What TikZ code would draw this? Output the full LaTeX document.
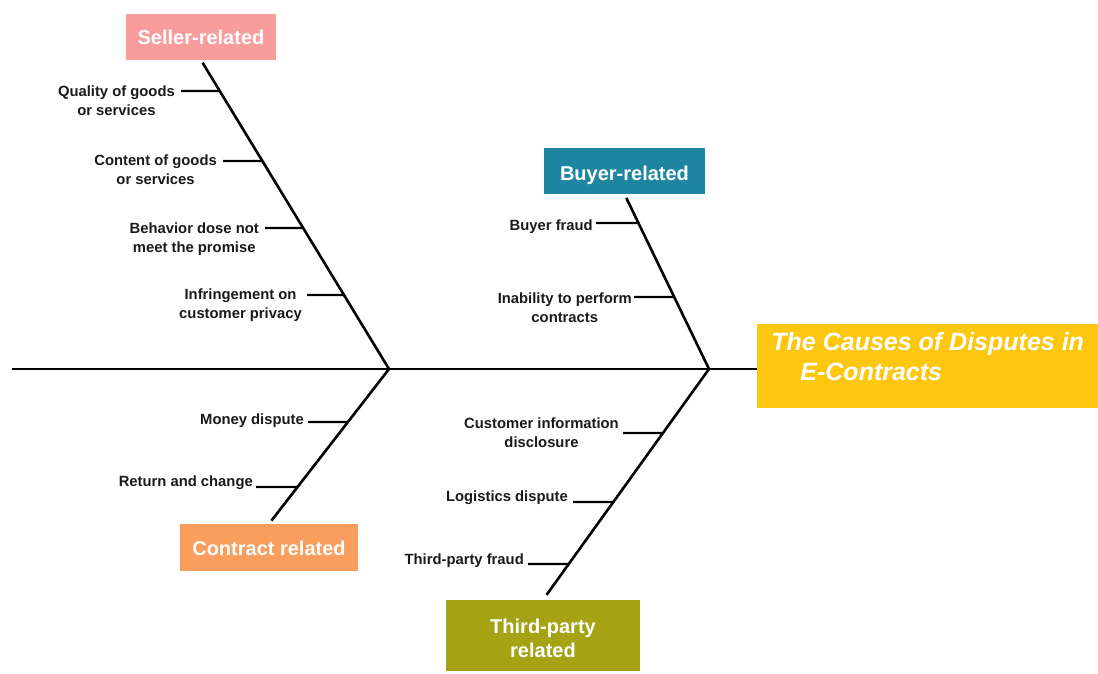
\documentclass[tikz,border=0pt]{standalone}
\usepackage{fontspec}
\setmainfont{Liberation Sans}
\definecolor{sellerc}{HTML}{F89C9C}
\definecolor{buyerc}{HTML}{1F86A1}
\definecolor{contractc}{HTML}{F99E5C}
\definecolor{thirdc}{HTML}{A5A314}
\definecolor{titlec}{HTML}{FDC60F}
\definecolor{lblc}{HTML}{1A1A1A}
\begin{document}
\begin{tikzpicture}[x=1pt,y=-1pt,
  bone/.style={line width=2.6pt, black},
  rib/.style={line width=2.4pt, black},
  box/.style={fill=#1, text=white, font=\fontsize{20}{24}\selectfont\bfseries, align=center, inner sep=0pt},
  lbl/.style={font=\fontsize{14.8}{19}\selectfont\bfseries, align=center, inner sep=0pt, text=lblc}]
\useasboundingbox[fill=white] (0,0) rectangle (1098,674);

% category boxes
\node[box=sellerc, minimum width=150pt, text height=31pt, text depth=15pt] (seller) at (201,37) {Seller-related};
\node[box=buyerc, minimum width=161pt, text height=32pt, text depth=14pt] (buyer) at (624.5,171) {Buyer-related};
\node[box=contractc, minimum width=178pt, text height=31pt, text depth=16pt] (contract) at (269,547.5) {Contract related};
\node[box=thirdc, minimum width=194pt, text height=57pt, text depth=14pt] (third) at (543,635.5) {Third-party\\related};
\node[fill=titlec, text=white, font=\fontsize{25}{30}\selectfont\bfseries\itshape, align=left,
      anchor=north west, minimum width=341pt, inner xsep=14pt, inner ysep=0pt, text height=56pt, text depth=28pt] (title) at (757,324)
      {The Causes of Disputes in\\\hspace*{29pt}E-Contracts};

% spine
\coordinate (s0) at (12,369);
\coordinate (J1) at (389,369);
\coordinate (J2) at (709,369);
\draw[bone] (s0) -- (J1) -- (J2) -- (J2 -| title.west);

% bones
\draw[bone, shorten <=3pt] (seller.south) -- (J1);
\draw[bone, shorten <=4pt] (buyer.south) -- (J2);
\draw[bone, shorten <=4pt] (contract.north) -- (J1);
\draw[bone, shorten <=6pt] (third.north) -- (J2);

% seller ribs
\coordinate (q0) at (181,91);  \coordinate (q1) at (intersection of seller.south--J1 and 0,91--1,91);
\coordinate (c0) at (223,161); \coordinate (c1) at (intersection of seller.south--J1 and 0,161--1,161);
\coordinate (b0) at (265,228); \coordinate (b1) at (intersection of seller.south--J1 and 0,228--1,228);
\coordinate (i0) at (307,295); \coordinate (i1) at (intersection of seller.south--J1 and 0,295--1,295);
\draw[rib] (q0) -- (q1);
\draw[rib] (c0) -- (c1);
\draw[rib] (b0) -- (b1);
\draw[rib] (i0) -- (i1);
\node[lbl, anchor=north east] (lq) at (175,86) {Quality of goods\\or services};
\node[lbl, anchor=north east] (lc) at (217,155) {Content of goods\\or services};
\node[lbl, anchor=north east] (lb) at (259,223) {Behavior dose not\\meet the promise};
\node[lbl, anchor=north east] (li) at (302,289) {Infringement on\\customer privacy};

% buyer ribs
\coordinate (f0) at (596,223); \coordinate (f1) at (intersection of buyer.south--J2 and 0,223--1,223);
\coordinate (n0) at (634,297); \coordinate (n1) at (intersection of buyer.south--J2 and 0,297--1,297);
\draw[rib] (f0) -- (f1);
\draw[rib] (n0) -- (n1);
\node[lbl, anchor=base east] (lf) at (593,230) {Buyer fraud};
\node[lbl, anchor=north east] (ln) at (632,293) {Inability to perform\\contracts};

% contract ribs
\coordinate (m0) at (308,422); \coordinate (m1) at (intersection of contract.north--J1 and 0,422--1,422);
\coordinate (r0) at (256,487); \coordinate (r1) at (intersection of contract.north--J1 and 0,487--1,487);
\draw[rib] (m0) -- (m1);
\draw[rib] (r0) -- (r1);
\node[lbl, anchor=base east] (lm) at (304,424) {Money dispute};
\node[lbl, anchor=base east] (lr) at (253,486) {Return and change};

% third-party ribs
\coordinate (u0) at (623,433); \coordinate (u1) at (intersection of third.north--J2 and 0,433--1,433);
\coordinate (g0) at (573,502); \coordinate (g1) at (intersection of third.north--J2 and 0,502--1,502);
\coordinate (t0) at (528,564); \coordinate (t1) at (intersection of third.north--J2 and 0,564--1,564);
\draw[rib] (u0) -- (u1);
\draw[rib] (g0) -- (g1);
\draw[rib] (t0) -- (t1);
\node[lbl, anchor=north east] (lu) at (619,418) {Customer information\\disclosure};
\node[lbl, anchor=base east] (lg) at (568,501) {Logistics dispute};
\node[lbl, anchor=base east] (lt) at (524,564) {Third-party fraud};
\end{tikzpicture}
\end{document}
